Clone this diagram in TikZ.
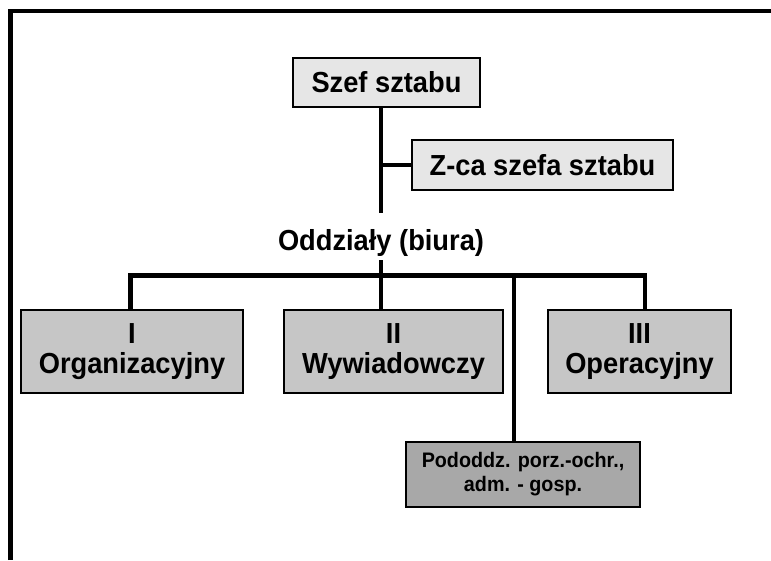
\documentclass[tikz,border=0pt]{standalone}
\usepackage{fontspec}
\setmainfont{Liberation Sans}
\newfontfamily\chartfont[FakeStretch=0.94]{Liberation Sans}
\begin{document}
\begin{tikzpicture}[x=1pt,y=-1pt,
  conn/.style={line width=4.5pt,line cap=butt,line join=miter},
  label/.style={font=\chartfont\bfseries\fontsize{29}{30}\selectfont},
  box/.style={label,draw=black,line width=2pt,rectangle,inner sep=0pt,align=center},
  lightbox/.style={box,fill=lgray},
  midbox/.style={box,fill=mgray},
  darkbox/.style={box,fill=dgray,font=\chartfont\bfseries\fontsize{21}{24}\selectfont},
]
\definecolor{lgray}{HTML}{E6E6E6}
\definecolor{mgray}{HTML}{C6C6C6}
\definecolor{dgray}{HTML}{A8A8A8}
\useasboundingbox (0,0) rectangle (771,560);
\fill[white] (0,0) rectangle (771,560);

% outer frame (runs off the right and bottom edges)
\draw[line width=4.4pt,line join=miter] (10.4,560) -- (10.4,11.2) -- (771,11.2);

% boxes
\node[lightbox,minimum width=187pt,minimum height=49pt] (szef) at (386.5,82.5) {Szef sztabu};
\node[lightbox,minimum width=261pt,minimum height=50pt] (zca) at (542.5,165) {Z-ca szefa sztabu};
\node[label,inner sep=0pt,anchor=base] (oddz) at (381,250) {Oddziały (biura)};
\node[midbox,minimum width=222pt,minimum height=83pt] (org) at (132,351.5) {I\\Organizacyjny};
\node[midbox,minimum width=219pt,minimum height=83pt] (wyw) at (393.5,351.5) {II\\Wywiadowczy};
\node[midbox,minimum width=183pt,minimum height=83pt] (ope) at (639.5,351.5) {III\\Operacyjny};
\node[darkbox,minimum width=234pt,minimum height=65pt] (pod) at (523,474.5) {Pododdz. porz.-ochr.,\\adm. - gosp.};

% junction points
\coordinate (oa) at (381,213);
\coordinate (ob) at (381,260);
\coordinate (zj) at (381,165);
\coordinate (bl) at (130.5,275.5);
\coordinate (br) at (645,275.5);
\coordinate (pj) at (514,275.5);

% connectors
\draw[conn] (szef.south -| oa) -- (oa);
\draw[conn] (zj) -- (zca.west);
\draw[conn] (ob) -- (wyw.north -| ob);
\draw[conn] (org.north -| bl) -- (bl) -- (br) -- (ope.north -| br);
\draw[conn] (pj) -- (pod.north -| pj);
\end{tikzpicture}
\end{document}
